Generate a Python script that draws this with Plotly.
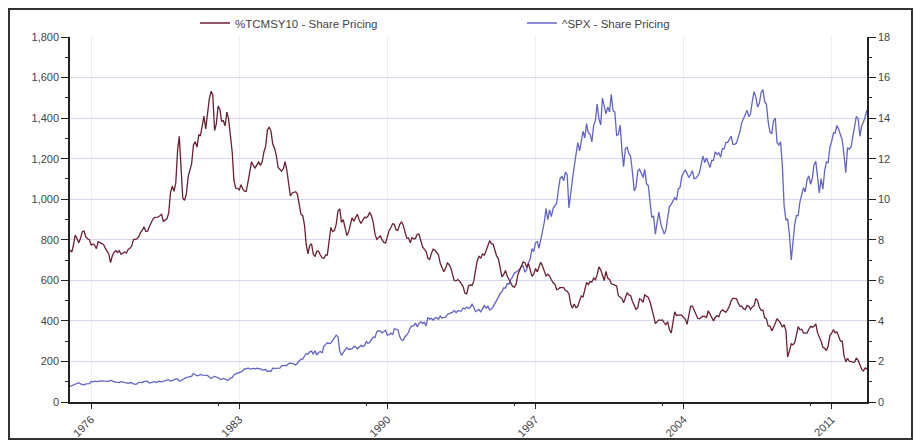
import pandas as pd
import plotly.graph_objects as go

# 10-year Treasury yield (%), monthly, Jan 1975 - Sep 2012 (right axis)
tcm_1975 = [7.50, 7.39, 7.73, 8.23, 8.06, 7.86, 8.06, 8.40, 8.43, 8.14, 8.05, 8.00]
tcm_1976 = [7.74, 7.79, 7.73, 7.56, 7.90, 7.86, 7.83, 7.77, 7.59, 7.41, 7.29, 6.87]
tcm_1977 = [7.21, 7.39, 7.46, 7.37, 7.46, 7.28, 7.33, 7.40, 7.34, 7.52, 7.58, 7.69]
tcm_1978 = [8.01, 8.03, 8.04, 8.15, 8.35, 8.46, 8.64, 8.41, 8.42, 8.64, 8.81, 9.01]
tcm_1979 = [9.10, 9.10, 9.12, 9.18, 9.25, 8.91, 8.95, 9.03, 9.33, 10.30, 10.65, 10.39]
tcm_1980 = [10.80, 12.41, 13.10, 11.47, 10.05, 9.95, 10.25, 11.10, 11.51, 11.75, 12.68, 12.84]
tcm_1981 = [12.57, 13.19, 13.12, 13.68, 14.10, 13.47, 14.28, 14.94, 15.32, 15.15, 13.39, 13.72]
tcm_1982 = [14.59, 14.43, 13.86, 13.87, 13.62, 14.30, 13.95, 13.06, 12.34, 10.91, 10.55, 10.54]
tcm_1983 = [10.46, 10.72, 10.51, 10.40, 10.38, 10.85, 11.38, 11.85, 11.65, 11.54, 11.69, 11.83]
tcm_1984 = [11.67, 11.84, 12.32, 12.63, 13.41, 13.56, 13.36, 12.72, 12.52, 12.16, 11.57, 11.50]
tcm_1985 = [11.38, 11.51, 11.86, 11.43, 10.85, 10.16, 10.31, 10.33, 10.37, 10.24, 9.78, 9.26]
tcm_1986 = [9.19, 8.70, 7.78, 7.30, 7.71, 7.80, 7.30, 7.17, 7.45, 7.43, 7.25, 7.11]
tcm_1987 = [7.08, 7.25, 7.25, 8.02, 8.61, 8.40, 8.45, 8.76, 9.42, 9.52, 8.86, 8.99]
tcm_1988 = [8.67, 8.21, 8.37, 8.72, 9.09, 8.92, 9.06, 9.26, 8.98, 8.80, 8.96, 9.11]
tcm_1989 = [9.09, 9.17, 9.36, 9.18, 8.86, 8.28, 8.02, 8.11, 8.19, 8.01, 7.87, 7.84]
tcm_1990 = [8.21, 8.47, 8.59, 8.79, 8.76, 8.48, 8.47, 8.75, 8.89, 8.72, 8.39, 8.08]
tcm_1991 = [8.09, 7.85, 8.11, 8.04, 8.07, 8.28, 8.27, 7.90, 7.65, 7.53, 7.42, 7.09]
tcm_1992 = [7.03, 7.34, 7.54, 7.48, 7.39, 7.26, 6.84, 6.59, 6.42, 6.59, 6.87, 6.77]
tcm_1993 = [6.60, 6.26, 5.98, 5.97, 6.04, 5.96, 5.81, 5.68, 5.36, 5.33, 5.72, 5.77]
tcm_1994 = [5.75, 5.97, 6.48, 6.97, 7.18, 7.10, 7.30, 7.24, 7.46, 7.74, 7.96, 7.81]
tcm_1995 = [7.78, 7.47, 7.20, 7.06, 6.63, 6.17, 6.28, 6.49, 6.20, 6.04, 5.93, 5.71]
tcm_1996 = [5.65, 5.81, 6.27, 6.51, 6.74, 6.91, 6.87, 6.64, 6.83, 6.53, 6.20, 6.30]
tcm_1997 = [6.58, 6.42, 6.69, 6.89, 6.71, 6.49, 6.22, 6.30, 6.21, 6.03, 5.88, 5.81]
tcm_1998 = [5.54, 5.57, 5.65, 5.64, 5.65, 5.50, 5.46, 5.34, 4.81, 4.63, 4.83, 4.65]
tcm_1999 = [4.72, 5.00, 5.23, 5.18, 5.54, 5.90, 5.79, 5.94, 5.92, 6.11, 6.03, 6.28]
tcm_2000 = [6.66, 6.52, 6.26, 5.99, 6.44, 6.10, 6.05, 5.83, 5.80, 5.74, 5.72, 5.24]
tcm_2001 = [5.16, 5.10, 4.89, 5.14, 5.39, 5.28, 5.24, 4.97, 4.73, 4.57, 4.65, 5.09]
tcm_2002 = [5.04, 4.91, 5.28, 5.21, 5.16, 4.93, 4.65, 4.26, 3.87, 3.94, 4.05, 4.03]
tcm_2003 = [4.05, 3.90, 3.81, 3.96, 3.57, 3.40, 3.98, 4.45, 4.27, 4.29, 4.30, 4.27]
tcm_2004 = [4.15, 4.08, 3.83, 4.35, 4.72, 4.73, 4.50, 4.28, 4.13, 4.10, 4.19, 4.23]
tcm_2005 = [4.22, 4.17, 4.50, 4.34, 4.14, 4.00, 4.18, 4.26, 4.20, 4.46, 4.54, 4.47]
tcm_2006 = [4.42, 4.57, 4.72, 4.99, 5.11, 5.11, 5.09, 4.88, 4.72, 4.73, 4.60, 4.56]
tcm_2007 = [4.76, 4.72, 4.56, 4.69, 4.75, 5.10, 5.00, 4.67, 4.52, 4.53, 4.15, 4.10]
tcm_2008 = [3.74, 3.74, 3.51, 3.68, 3.88, 4.10, 4.01, 3.89, 3.69, 3.81, 3.53, 2.22]
tcm_2009 = [2.52, 2.87, 2.82, 2.93, 3.29, 3.72, 3.56, 3.59, 3.40, 3.39, 3.40, 3.59]
tcm_2010 = [3.73, 3.69, 3.73, 3.85, 3.42, 3.20, 3.01, 2.70, 2.65, 2.54, 2.76, 3.29]
tcm_2011 = [3.39, 3.58, 3.41, 3.46, 3.17, 3.00, 3.00, 2.30, 1.98, 2.15, 2.01, 1.98]
tcm_2012 = [1.97, 1.97, 2.17, 2.05, 1.80, 1.62, 1.53, 1.68, 1.62]

# S&P 500 index level, monthly, Jan 1975 - Sep 2012 (left axis)
spx_1975 = [76.98, 81.59, 83.36, 87.30, 91.15, 95.19, 88.75, 86.88, 83.87, 89.04, 91.24, 90.19]
spx_1976 = [100.86, 99.71, 102.77, 101.64, 100.18, 104.28, 103.44, 102.91, 105.24, 102.90, 102.10, 107.46]
spx_1977 = [102.03, 99.82, 98.42, 98.44, 96.12, 100.48, 98.85, 96.77, 96.53, 92.34, 94.83, 95.10]
spx_1978 = [89.25, 87.04, 89.21, 96.83, 97.24, 95.53, 100.68, 103.29, 102.54, 93.15, 94.70, 96.11]
spx_1979 = [99.93, 96.28, 101.59, 101.76, 99.08, 102.91, 103.81, 109.32, 109.32, 101.82, 106.16, 107.94]
spx_1980 = [114.16, 113.66, 102.09, 106.29, 111.24, 114.24, 121.67, 122.38, 125.46, 127.47, 140.52, 135.76]
spx_1981 = [129.55, 131.27, 136.00, 132.81, 132.59, 131.21, 130.92, 122.79, 116.18, 121.89, 126.35, 122.55]
spx_1982 = [120.40, 113.11, 111.96, 116.44, 111.88, 109.61, 107.09, 119.51, 120.42, 133.71, 138.54, 140.64]
spx_1983 = [145.30, 148.06, 152.96, 164.42, 162.39, 168.11, 162.56, 164.40, 166.07, 163.55, 166.40, 164.93]
spx_1984 = [163.41, 157.06, 159.18, 160.05, 150.55, 153.18, 150.66, 166.68, 166.10, 166.09, 163.58, 167.24]
spx_1985 = [179.63, 181.18, 180.66, 179.83, 189.55, 191.85, 190.92, 188.63, 182.08, 189.82, 202.17, 211.28]
spx_1986 = [211.78, 226.92, 238.90, 235.52, 247.35, 250.84, 236.12, 252.93, 231.32, 243.98, 249.22, 242.17]
spx_1987 = [274.08, 284.20, 291.70, 288.36, 290.10, 304.00, 318.66, 329.80, 321.83, 251.79, 230.30, 247.08]
spx_1988 = [257.07, 267.82, 258.89, 261.33, 262.16, 273.50, 272.02, 261.52, 271.91, 278.97, 273.70, 277.72]
spx_1989 = [297.47, 288.86, 294.87, 309.64, 320.52, 317.98, 346.08, 351.45, 349.15, 340.36, 345.99, 353.40]
spx_1990 = [329.08, 331.89, 339.94, 330.80, 361.23, 358.02, 356.15, 322.56, 306.05, 304.00, 322.22, 330.22]
spx_1991 = [343.93, 367.07, 375.22, 375.34, 389.83, 371.16, 387.81, 395.43, 387.86, 392.46, 375.22, 417.09]
spx_1992 = [408.79, 412.70, 403.69, 414.95, 415.35, 408.14, 424.21, 414.03, 417.80, 418.68, 431.35, 435.71]
spx_1993 = [438.78, 443.38, 451.67, 440.19, 450.19, 450.53, 448.13, 463.56, 458.93, 467.83, 461.79, 466.45]
spx_1994 = [481.61, 467.14, 445.77, 450.91, 456.50, 444.27, 458.26, 475.49, 462.69, 472.35, 453.69, 459.27]
spx_1995 = [470.42, 487.39, 500.71, 514.71, 533.40, 544.75, 562.06, 561.88, 584.41, 581.50, 605.37, 615.93]
spx_1996 = [636.02, 640.43, 645.50, 654.17, 669.12, 670.63, 639.95, 651.99, 687.31, 705.27, 757.02, 740.74]
spx_1997 = [786.16, 790.82, 757.12, 801.34, 848.28, 885.14, 954.31, 899.47, 947.28, 914.62, 955.40, 970.43]
spx_1998 = [980.28, 1049.34, 1101.75, 1111.75, 1090.82, 1133.84, 1120.67, 957.28, 1017.01, 1098.67, 1163.63, 1229.23]
spx_1999 = [1279.64, 1238.33, 1286.37, 1335.18, 1301.84, 1372.71, 1328.72, 1320.41, 1282.71, 1362.93, 1388.91, 1469.25]
spx_2000 = [1394.46, 1366.42, 1498.58, 1452.43, 1420.60, 1454.60, 1430.83, 1517.68, 1436.51, 1429.40, 1314.95, 1320.28]
spx_2001 = [1366.01, 1239.94, 1160.33, 1249.46, 1255.82, 1224.38, 1211.23, 1133.58, 1040.94, 1059.78, 1139.45, 1148.08]
spx_2002 = [1130.20, 1106.73, 1147.39, 1076.92, 1067.14, 989.82, 911.62, 916.07, 828.00, 885.76, 936.31, 879.82]
spx_2003 = [855.70, 828.00, 848.18, 916.92, 963.59, 974.50, 990.31, 1008.01, 995.97, 1050.71, 1058.20, 1111.92]
spx_2004 = [1131.13, 1144.94, 1126.21, 1107.30, 1120.68, 1140.84, 1101.72, 1104.24, 1114.58, 1130.20, 1173.82, 1211.92]
spx_2005 = [1181.27, 1203.60, 1180.59, 1156.85, 1191.50, 1191.33, 1234.18, 1220.33, 1228.81, 1207.01, 1249.48, 1248.29]
spx_2006 = [1280.08, 1280.66, 1294.87, 1310.61, 1270.09, 1270.20, 1276.66, 1303.82, 1335.85, 1377.94, 1400.63, 1418.30]
spx_2007 = [1438.24, 1406.82, 1420.86, 1482.37, 1530.62, 1503.35, 1455.27, 1473.99, 1526.75, 1540.38, 1481.14, 1468.36]
spx_2008 = [1378.55, 1330.63, 1322.70, 1385.59, 1400.38, 1280.00, 1267.38, 1282.83, 1166.36, 968.75, 896.24, 903.25]
spx_2009 = [825.88, 700.00, 797.87, 872.81, 919.14, 919.32, 987.48, 1020.62, 1057.08, 1036.19, 1095.63, 1115.10]
spx_2010 = [1073.87, 1104.49, 1169.43, 1186.69, 1089.41, 1030.71, 1101.60, 1049.33, 1141.20, 1183.26, 1180.55, 1257.64]
spx_2011 = [1286.12, 1327.22, 1325.83, 1363.61, 1345.20, 1320.64, 1292.28, 1218.89, 1131.42, 1253.30, 1246.96, 1257.60]
spx_2012 = [1312.41, 1365.68, 1408.47, 1397.91, 1310.33, 1362.16, 1379.32, 1406.58, 1440.67]

tcm_years = [tcm_1975, tcm_1976, tcm_1977, tcm_1978, tcm_1979, tcm_1980, tcm_1981, tcm_1982,
             tcm_1983, tcm_1984, tcm_1985, tcm_1986, tcm_1987, tcm_1988, tcm_1989, tcm_1990,
             tcm_1991, tcm_1992, tcm_1993, tcm_1994, tcm_1995, tcm_1996, tcm_1997, tcm_1998,
             tcm_1999, tcm_2000, tcm_2001, tcm_2002, tcm_2003, tcm_2004, tcm_2005, tcm_2006,
             tcm_2007, tcm_2008, tcm_2009, tcm_2010, tcm_2011, tcm_2012]
spx_years = [spx_1975, spx_1976, spx_1977, spx_1978, spx_1979, spx_1980, spx_1981, spx_1982,
             spx_1983, spx_1984, spx_1985, spx_1986, spx_1987, spx_1988, spx_1989, spx_1990,
             spx_1991, spx_1992, spx_1993, spx_1994, spx_1995, spx_1996, spx_1997, spx_1998,
             spx_1999, spx_2000, spx_2001, spx_2002, spx_2003, spx_2004, spx_2005, spx_2006,
             spx_2007, spx_2008, spx_2009, spx_2010, spx_2011, spx_2012]

tcm = [v for yr in tcm_years for v in yr]
spx = [v for yr in spx_years for v in yr]
dates = pd.date_range("1975-01-01", periods=len(tcm), freq="MS")

x_tick_years = ["1976", "1983", "1990", "1997", "2004", "2011"]
x_minor_years = ["1982", "1989", "1996", "2003", "2010"]

TCM_COLOR = "#6b2133"
SPX_COLOR = "#6463c6"
TXT = "#444444"
FONT = "Liberation Sans, Arial, sans-serif"

fig = go.Figure()
fig.add_trace(go.Scatter(x=dates, y=tcm, name="%TCMSY10 - Share Pricing", yaxis="y2",
                         mode="lines", line=dict(color=TCM_COLOR, width=1.3)))
fig.add_trace(go.Scatter(x=dates, y=spx, name="^SPX - Share Pricing", yaxis="y",
                         mode="lines", line=dict(color=SPX_COLOR, width=1.3)))

# The page body adds an 8px margin, so the figure is sized/positioned to compensate.
OFF = 8
W, H = 921 - 2 * OFF, 448 - 2 * OFF
L = 70 - OFF
T = 37 - OFF
R = W - (867 - OFF)
B = H - (402 - OFF)
pw, ph = W - L - R, H - T - B


def px_x(p):
    return (p - L) / pw


def px_y(p):
    return (H - B - p) / ph


fig.update_layout(
    width=W, height=H,
    margin=dict(l=L, r=R, t=T, b=B, pad=0, autoexpand=False),
    paper_bgcolor="white", plot_bgcolor="white",
    font=dict(family=FONT, size=11, color=TXT),
    showlegend=True,
    legend=dict(orientation="h", x=px_x(187), y=px_y(15), xanchor="left", yanchor="middle",
                entrywidth=282, entrywidthmode="pixels", font=dict(size=11.5, color=TXT),
                bgcolor="rgba(0,0,0,0)"),
    xaxis=dict(
        type="date",
        range=[dates[0], dates[-1]],
        tickmode="array",
        tickvals=[pd.Timestamp(y + "-01-01") for y in x_tick_years],
        ticktext=x_tick_years,
        tickangle=-45,
        ticks="outside", ticklen=5, tickcolor="#222",
        showline=True, linecolor="#222", linewidth=1.5,
        showgrid=True, gridcolor="#ececf2", gridwidth=1,
        zeroline=False, automargin=False,
        minor=dict(tickmode="array",
                   tickvals=[pd.Timestamp(y + "-01-01") for y in x_minor_years],
                   ticks="outside", ticklen=2, tickcolor="#222", showgrid=False),
    ),
    yaxis=dict(
        range=[0, 1800], tickmode="linear", tick0=0, dtick=200, tickformat=",d",
        ticks="outside", ticklen=7, tickcolor="#222",
        showline=True, linecolor="#222", linewidth=1.5,
        showgrid=True, gridcolor="#d6d6ee", gridwidth=1,
        zeroline=False, automargin=False,
        minor=dict(dtick=100, ticks="outside", ticklen=3, tickcolor="#222", showgrid=False),
    ),
    yaxis2=dict(
        range=[0, 18], tickmode="linear", tick0=0, dtick=2,
        overlaying="y", side="right", anchor="x",
        ticks="outside", ticklen=7, tickcolor="#222",
        showline=True, linecolor="#222", linewidth=1.5,
        showgrid=False, zeroline=False, automargin=False,
        minor=dict(dtick=1, ticks="outside", ticklen=3, tickcolor="#222", showgrid=False),
    ),
)

# outer frame around the whole chart
fig.add_shape(type="rect", xref="paper", yref="paper",
              x0=px_x(1), x1=px_x(W - 1), y0=px_y(H - 1), y1=px_y(1),
              line=dict(color="#333333", width=2), fillcolor="rgba(0,0,0,0)", layer="below")

fig.write_html("out.html")
